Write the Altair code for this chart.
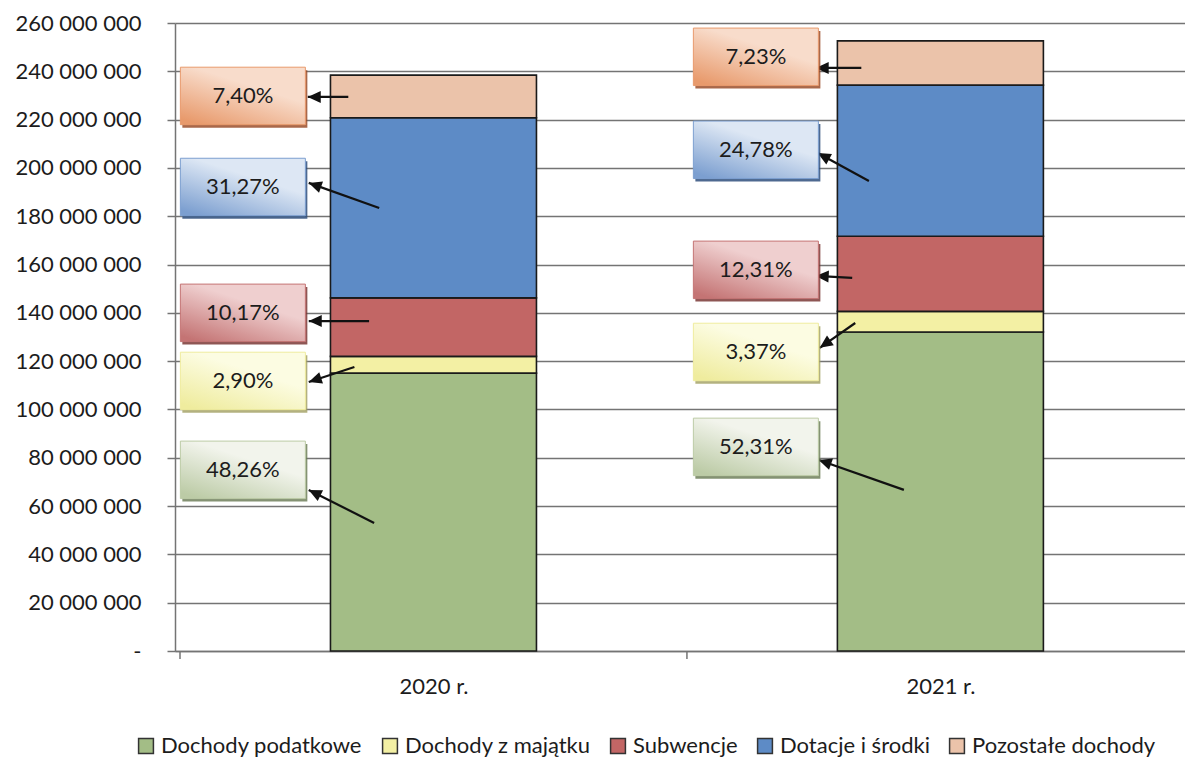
import math
import altair as alt
import pandas as pd

# ---------------- data ----------------
years = ["2020 r.", "2021 r."]
year_pos = [0.5, 1.5]
categories = ["Dochody podatkowe", "Dochody z majątku", "Subwencje",
              "Dotacje i środki", "Pozostałe dochody"]
values_2020 = [115_050_000, 6_910_000, 24_250_000, 74_550_000, 17_640_000]
values_2021 = [132_100_000, 8_500_000, 31_100_000, 62_600_000, 18_300_000]
shares_2020 = ["48,26%", "2,90%", "10,17%", "31,27%", "7,40%"]
shares_2021 = ["52,31%", "3,37%", "12,31%", "24,78%", "7,23%"]

# callout boxes (value-axis anchors of each label box and its arrow)
box_x = [0.124, 1.136]
label_y_2020 = [75.0e6, 111.8e6, 140.0e6, 192.1e6, 229.8e6]
label_y_2021 = [84.5e6, 123.8e6, 157.8e6, 207.5e6, 246.0e6]
tail_x_2020 = [0.383, 0.344, 0.373, 0.393, 0.332]
tail_y_2020 = [53.0e6, 117.6e6, 136.6e6, 183.4e6, 229.4e6]
head_x_2020 = [0.254, 0.254, 0.254, 0.254, 0.252]
head_y_2020 = [66.7e6, 111.4e6, 136.6e6, 193.8e6, 229.4e6]
tail_x_2021 = [1.428, 1.332, 1.326, 1.359, 1.344]
tail_y_2021 = [66.7e6, 135.8e6, 154.5e6, 194.6e6, 241.4e6]
head_x_2021 = [1.260, 1.262, 1.254, 1.258, 1.254]
head_y_2021 = [79.1e6, 125.5e6, 155.3e6, 206.2e6, 241.4e6]

# ---------------- style ----------------
FONT = "Lato"
TXT = "#1c1c1c"
GRID = "#747474"
bar_colors = ["#A3BD86", "#F3F0A4", "#C26665", "#5D8BC6", "#EBC3AA"]
box_light = ["#F2F4EC", "#FCFCE2", "#EFCFCF", "#DDE7F4", "#F8DCCB"]
box_dark = ["#BCCBA6", "#EFEC9E", "#C47474", "#7C9FD0", "#E89A6C"]
shadow_colors = ["#6E7F5A", "#A6A36A", "#7A3836", "#2F4F7C", "#9A4E2A"]

PLOT_W, PLOT_H = 1010, 628
STEP_PX = 512
X_MAX = PLOT_W / STEP_PX
Y_MAX = 260_000_000
PX_X = PLOT_W / X_MAX
PX_Y = PLOT_H / Y_MAX

BOX_W = 125
BOX_SHAPE = "M-1,-0.46H1V0.46H-1Z"
HEAD_SHAPE = "M0,0L-1,-0.46L-1,0.46Z"

# ---------------- tables ----------------
rows = []
for yi, (yr, vals, shares) in enumerate(
        [(years[0], values_2020, shares_2020), (years[1], values_2021, shares_2021)]):
    for ci, cat in enumerate(categories):
        rows.append(dict(year=yr, pos=year_pos[yi], category=cat, idx=ci,
                         value=vals[ci], share=shares[ci]))
bars_df = pd.DataFrame(rows)

crows = []
layout = [
    (label_y_2020, tail_x_2020, tail_y_2020, head_x_2020, head_y_2020, shares_2020),
    (label_y_2021, tail_x_2021, tail_y_2021, head_x_2021, head_y_2021, shares_2021),
]
for yi, (ly, tx, ty, hx, hy, sh) in enumerate(layout):
    for ci, cat in enumerate(categories):
        dx = (hx[ci] - tx[ci]) * PX_X
        dy = -(hy[ci] - ty[ci]) * PX_Y
        ang = math.degrees(math.atan2(dy, dx)) % 360
        crows.append(dict(year=years[yi], category=cat, idx=ci, share=sh[ci],
                          bx=box_x[yi], by=ly[ci], tx=tx[ci], ty=ty[ci],
                          hx=hx[ci], hy=hy[ci], angle=ang))
call_df = pd.DataFrame(crows)

x_scale = alt.Scale(domain=[0, X_MAX], nice=False, zero=False)
y_scale = alt.Scale(domain=[0, Y_MAX], nice=False)
color_scale = alt.Scale(domain=categories, range=bar_colors)

x_label_expr = f"datum.value < 1 ? '{years[0]}' : '{years[1]}'"
y_label_expr = ("datum.value == 0 ? '-' : "
                "replace(format(datum.value, ',d'), regexp(',', 'g'), ' ')")

bars = alt.Chart(bars_df).mark_bar(size=206, stroke="#1a1a1a", strokeWidth=1.6).encode(
    x=alt.X("pos:Q", scale=x_scale, title=None,
            axis=alt.Axis(values=year_pos, labelExpr=x_label_expr, ticks=False,
                          grid=False, labelPadding=25, labelFontSize=22,
                          labelFont=FONT, labelColor=TXT, domainColor=GRID,
                          domainWidth=1.5)),
    y=alt.Y("value:Q", stack="zero", scale=y_scale, title=None,
            axis=alt.Axis(values=list(range(0, Y_MAX + 1, 20_000_000)),
                          labelExpr=y_label_expr, grid=True, gridColor=GRID,
                          gridWidth=1.5, tickSize=8, tickColor=GRID, tickWidth=1.5,
                          domainColor=GRID, domainWidth=1.5, labelPadding=26,
                          labelFontSize=22, labelFont=FONT, labelColor=TXT)),
    color=alt.Color("category:N", scale=color_scale,
                    legend=alt.Legend(orient="none", legendX=-40, legendY=712,
                                      direction="horizontal", title=None,
                                      symbolType="square", symbolSize=220,
                                      symbolStrokeColor="#333333",
                                      symbolStrokeWidth=1.5, labelFontSize=22,
                                      labelFont=FONT, labelColor=TXT,
                                      columnPadding=16, labelOffset=4,
                                      labelLimit=400)),
    order=alt.Order("idx:Q", sort="ascending"),
)

tick_df = pd.DataFrame({"pos": [0.0, 1.0]})
xticks = alt.Chart(tick_df).mark_rule(color=GRID, strokeWidth=1.5).encode(
    x=alt.X("pos:Q", scale=x_scale, title=None),
    y=alt.value(PLOT_H), y2=alt.value(PLOT_H + 8),
)

arrows = alt.Chart(call_df).mark_rule(color="#111111", strokeWidth=2.2).encode(
    x=alt.X("tx:Q", scale=x_scale, title=None),
    y=alt.Y("ty:Q", scale=y_scale, title=None),
    x2="hx:Q", y2="hy:Q",
)
heads = alt.Chart(call_df).mark_point(shape=HEAD_SHAPE, size=26 ** 2, filled=True,
                                      color="#111111", opacity=1).encode(
    x=alt.X("hx:Q", scale=x_scale, title=None),
    y=alt.Y("hy:Q", scale=y_scale, title=None),
    angle=alt.Angle("angle:Q", scale=None),
)

layers = [bars, xticks, arrows, heads]
for ci, cat in enumerate(categories):
    sub = call_df[call_df["category"] == cat]
    grad = alt.LinearGradient(
        gradient="linear",
        stops=[alt.GradientStop(offset=0, color=box_light[ci]),
               alt.GradientStop(offset=0.35, color=box_light[ci]),
               alt.GradientStop(offset=1, color=box_dark[ci])],
        x1=0.85, y1=0, x2=0.15, y2=1)
    shadow = alt.Chart(sub).mark_point(shape=BOX_SHAPE, size=BOX_W ** 2, filled=True,
                                       color=shadow_colors[ci], opacity=0.85,
                                       xOffset=2, yOffset=3).encode(
        x=alt.X("bx:Q", scale=x_scale, title=None),
        y=alt.Y("by:Q", scale=y_scale, title=None),
    )
    box = alt.Chart(sub).mark_point(shape=BOX_SHAPE, size=BOX_W ** 2, filled=True,
                                    fill=grad, stroke=box_dark[ci], strokeWidth=1,
                                    opacity=1).encode(
        x=alt.X("bx:Q", scale=x_scale, title=None),
        y=alt.Y("by:Q", scale=y_scale, title=None),
    )
    layers += [shadow, box]

texts = alt.Chart(call_df).mark_text(font=FONT, fontSize=22, color=TXT).encode(
    x=alt.X("bx:Q", scale=x_scale, title=None),
    y=alt.Y("by:Q", scale=y_scale, title=None),
    text="share:N",
)
layers.append(texts)

chart = alt.layer(*layers).properties(
    width=PLOT_W, height=PLOT_H,
    padding={"left": 6, "top": 4, "right": 0, "bottom": 0},
    background="white",
).configure_view(stroke=None)

chart.save("out.html", embed_options={"renderer": "svg", "actions": False})
